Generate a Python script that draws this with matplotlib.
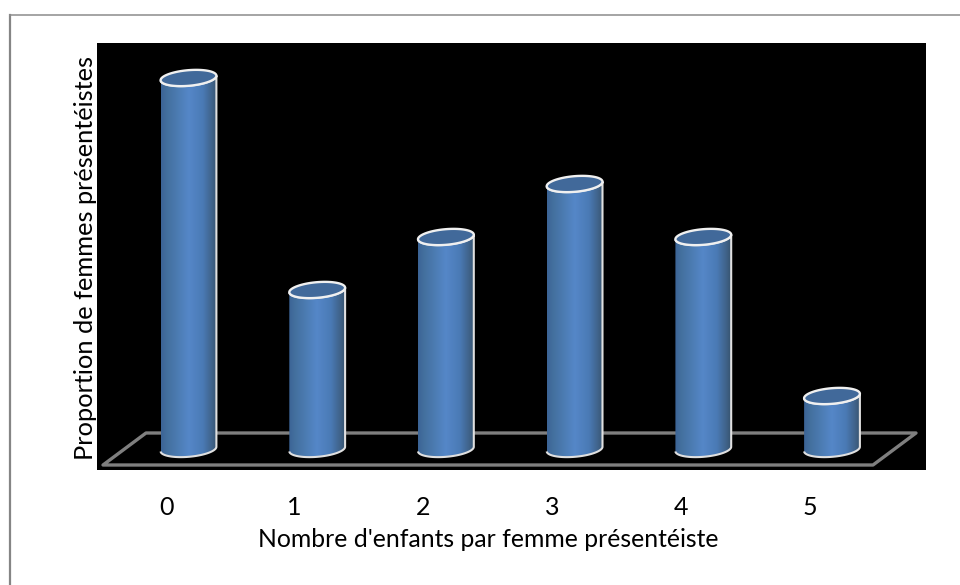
import numpy as np
import matplotlib
matplotlib.use("Agg")
import matplotlib.pyplot as plt
from matplotlib.colors import LinearSegmentedColormap
from matplotlib.lines import Line2D
from matplotlib.patches import PathPatch, Polygon
from matplotlib.path import Path

plt.rcParams['font.family'] = ['Lato', 'DejaVu Sans']

categories = [0, 1, 2, 3, 4, 5]
values = [7, 3, 4, 5, 4, 1]
xlabel = "Nombre d'enfants par femme présentéiste"
ylabel = "Proportion de femmes présentéistes"

W, H = 960, 585
L, R, T, B = 97, 926, 43, 470
fig = plt.figure(figsize=(W / 100, H / 100), dpi=100, facecolor='white')
ax = fig.add_axes([L / W, 1 - B / H, (R - L) / W, (B - T) / H], facecolor='black')

PX_X, PX_Y = 128.7, 53.0       # pixels per data unit
ax.set_xlim((L - 166) / PX_X, (R - 166) / PX_X)
ax.set_ylim((449 - B) / PX_Y, (449 - T) / PX_Y)

# floor, placed in axes fractions
floor_px = [(103, 465), (873, 465), (916, 433), (146, 433)]
floor_ax = [((x - L) / (R - L), (B - y) / (B - T)) for x, y in floor_px]
ax.add_patch(Polygon(floor_ax, closed=True, transform=ax.transAxes, fill=False,
                     edgecolor='#7f7f7f', linewidth=2.4, joinstyle='round', zorder=1))

cmap = LinearSegmentedColormap.from_list(
    'cyl', [(0, '#3c6496'), (0.12, '#44719f'), (0.5, '#5587c8'), (0.75, '#4a7ab5'),
            (0.92, '#3f6288'), (1, '#375470')])
grad = np.linspace(0, 1, 256)[None, :]

SEMI_A, SEMI_B, TILT, OFFSET = 28.0, 7.8, np.radians(5), 22.5


def ellipse(cx, cy, t):
    px = SEMI_A * np.cos(t) * np.cos(TILT) - SEMI_B * np.sin(t) * np.sin(TILT)
    py = SEMI_A * np.cos(t) * np.sin(TILT) + SEMI_B * np.sin(t) * np.cos(TILT)
    return cx + px / PX_X, cy + py / PX_Y


for cat, val in zip(categories, values):
    cx = cat + OFFSET / PX_X
    lower = np.linspace(np.pi, 2 * np.pi, 60)
    bx, by = ellipse(cx, 0, lower)
    tx, ty = ellipse(cx, val, lower[::-1])
    xs = np.r_[bx, tx]
    ys = np.r_[by, ty]
    body = Path(np.c_[xs, ys])
    patch = PathPatch(body, facecolor='none', edgecolor='#e0e0e0', linewidth=1.5, zorder=3)
    ax.add_patch(patch)
    halfw = SEMI_A / PX_X
    im = ax.imshow(grad, cmap=cmap, aspect='auto', zorder=2, interpolation='bilinear',
                   extent=[cx - halfw, cx + halfw, by.min(), ty.max() + 0.3])
    clip = PathPatch(body, transform=ax.transData, facecolor='none', edgecolor='none')
    ax.add_patch(clip)
    im.set_clip_path(clip)
    full = np.linspace(0, 2 * np.pi, 120)
    ex, ey = ellipse(cx, val, full)
    ax.fill(ex, ey, facecolor='#41699a', edgecolor='#f0f0f0', linewidth=1.7, zorder=4)

ax.set_xlim((L - 166) / PX_X, (R - 166) / PX_X)
ax.set_ylim((449 - B) / PX_Y, (449 - T) / PX_Y)

ax.set_xticks(categories)
ax.set_xticklabels([str(c) for c in categories], fontsize=18, color='black')
ax.tick_params(axis='x', length=0, pad=19)
ax.set_yticks([])
for s in ax.spines.values():
    s.set_visible(False)
ax.set_xlabel(xlabel, fontsize=17.8, color='black', labelpad=6, x=(488 - L) / (R - L))
fig.text(85.5 / W, 1 - 258.5 / H, ylabel, rotation=90, ha='center', va='center',
         fontsize=18.3, color='black')

# page border (left and top only)
fig.add_artist(Line2D([10 / W, 10 / W], [0, 1 - 14.5 / H], color='#858585', linewidth=1.6,
                      transform=fig.transFigure))
fig.add_artist(Line2D([9.5 / W, 1], [1 - 14.5 / H, 1 - 14.5 / H], color='#8c8c8c', linewidth=1.1,
                      transform=fig.transFigure))

fig.savefig('out.png', dpi=100, facecolor='white')
